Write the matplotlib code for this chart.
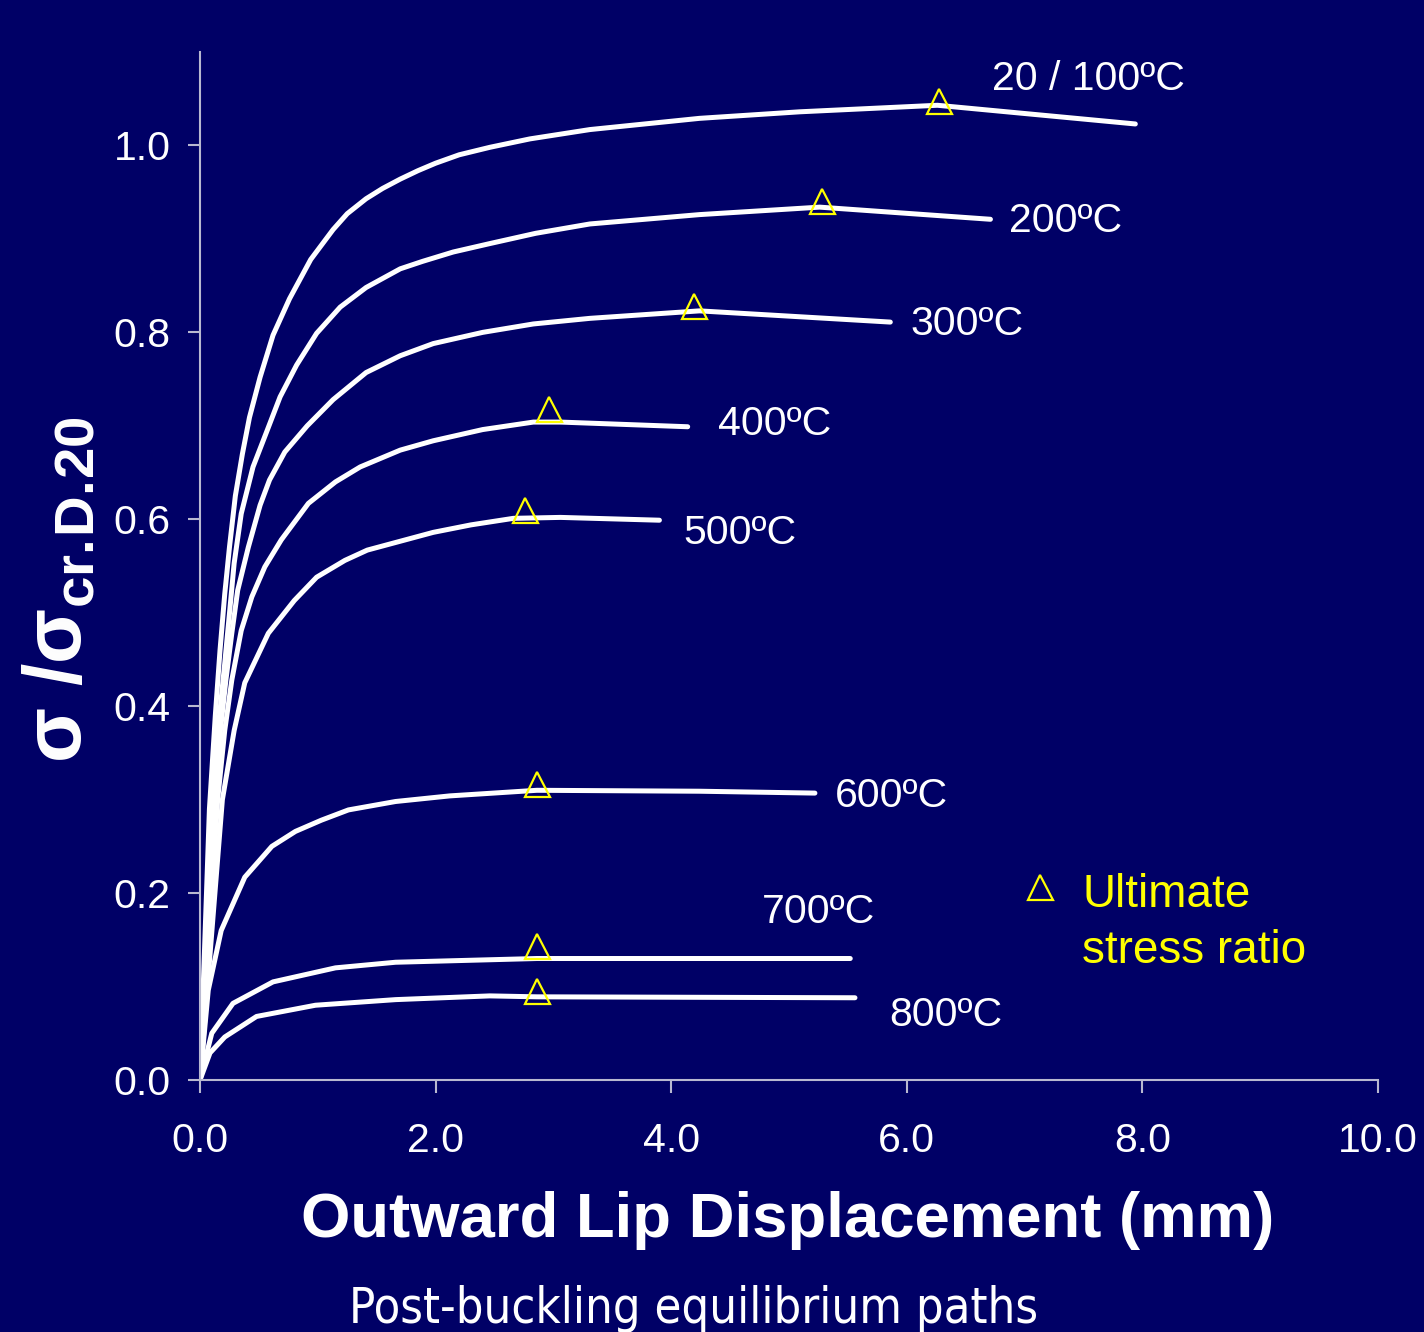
import matplotlib.pyplot as plt

plt.rcParams['font.family'] = ['Liberation Sans', 'DejaVu Sans']
plt.rcParams['mathtext.fontset'] = 'custom'
plt.rcParams['mathtext.rm'] = 'Liberation Sans:bold'
plt.rcParams['mathtext.bf'] = 'Liberation Sans:bold'

navy = '#000066'
axis_grey = '#b8b8d0'
yellow = '#ffff00'

# outward lip displacement (mm) / stress ratio
x_20 = [0, 0.08, 0.13, 0.17, 0.21, 0.25, 0.30, 0.36, 0.42, 0.51, 0.62, 0.76, 0.94,
        1.13, 1.25, 1.41, 1.55, 1.70, 1.85, 2.0, 2.2, 2.46, 2.8, 3.31, 4.24, 5.09, 6.26, 7.94]
y_20 = [0, 0.29, 0.39, 0.46, 0.52, 0.57, 0.625, 0.67, 0.709, 0.752, 0.797, 0.836, 0.878,
        0.910, 0.927, 0.943, 0.954, 0.964, 0.973, 0.981, 0.990, 0.998, 1.007, 1.017, 1.029,
        1.036, 1.043, 1.023]

x_200 = [0, 0.10, 0.15, 0.21, 0.25, 0.29, 0.35, 0.45, 0.57, 0.68, 0.82, 0.99, 1.19,
         1.41, 1.70, 1.89, 2.15, 2.46, 2.85, 3.31, 4.24, 5.26, 6.71]
y_200 = [0, 0.29, 0.37, 0.446, 0.499, 0.553, 0.606, 0.656, 0.695, 0.731, 0.765, 0.799, 0.827,
         0.848, 0.868, 0.876, 0.886, 0.895, 0.906, 0.916, 0.926, 0.934, 0.921]

x_300 = [0, 0.12, 0.17, 0.22, 0.27, 0.32, 0.41, 0.51, 0.59, 0.72, 0.91, 1.13, 1.41,
         1.70, 1.98, 2.4, 2.83, 3.31, 4.24, 5.86]
y_300 = [0, 0.29, 0.37, 0.428, 0.478, 0.524, 0.57, 0.615, 0.642, 0.672, 0.700, 0.728, 0.757,
         0.775, 0.788, 0.800, 0.809, 0.815, 0.823, 0.811]

x_400 = [0, 0.15, 0.21, 0.27, 0.35, 0.44, 0.55, 0.69, 0.92, 1.15, 1.36, 1.70, 1.98, 2.4,
         2.83, 3.06, 4.14]
y_400 = [0, 0.30, 0.374, 0.428, 0.481, 0.517, 0.549, 0.578, 0.617, 0.640, 0.656, 0.674,
         0.684, 0.696, 0.704, 0.704, 0.699]

x_500 = [0, 0.19, 0.29, 0.38, 0.58, 0.80, 0.99, 1.23, 1.42, 1.98, 2.3, 2.66, 3.06, 3.90]
y_500 = [0, 0.30, 0.374, 0.425, 0.478, 0.513, 0.538, 0.556, 0.567, 0.586, 0.594, 0.601,
         0.602, 0.599]

x_600 = [0, 0.07, 0.18, 0.38, 0.61, 0.81, 1.03, 1.26, 1.66, 2.12, 2.86, 4.24, 5.22]
y_600 = [0, 0.096, 0.16, 0.217, 0.25, 0.266, 0.278, 0.289, 0.298, 0.304, 0.31, 0.309, 0.307]

x_700 = [0, 0.10, 0.28, 0.62, 1.15, 1.66, 2.86, 5.52]
y_700 = [0, 0.05, 0.082, 0.105, 0.12, 0.126, 0.13, 0.13]

x_800 = [0, 0.085, 0.21, 0.48, 0.98, 1.66, 2.46, 2.86, 5.56]
y_800 = [0, 0.029, 0.046, 0.068, 0.08, 0.086, 0.09, 0.089, 0.088]

curves_x = [x_20, x_200, x_300, x_400, x_500, x_600, x_700, x_800]
curves_y = [y_20, y_200, y_300, y_400, y_500, y_600, y_700, y_800]
temps = ['20 / 100ºC', '200ºC', '300ºC', '400ºC', '500ºC', '600ºC', '700ºC', '800ºC']
label_pos = [(6.72, 1.059), (6.87, 0.907), (6.03, 0.797), (4.40, 0.690),
             (4.10, 0.574), (5.39, 0.292), (4.77, 0.168), (5.85, 0.058)]

# ultimate stress ratio markers
ult_x = [6.27, 5.28, 4.19, 2.96, 2.76, 2.86, 2.86, 2.86]
ult_y = [1.048, 0.941, 0.828, 0.718, 0.610, 0.317, 0.143, 0.095]

fig = plt.figure(figsize=(14.24, 13.32), dpi=100, facecolor=navy)
ax = fig.add_axes([200 / 1424, 252 / 1332, 1178 / 1424, 1028 / 1332])
ax.set_facecolor(navy)

for xs, ys in zip(curves_x, curves_y):
    ax.plot(xs, ys, color='white', lw=3.6, solid_capstyle='round', solid_joinstyle='round')

ax.plot(ult_x, ult_y, linestyle='none', marker='^', markersize=18, markerfacecolor='none',
        markeredgecolor=yellow, markeredgewidth=1.6, clip_on=False)

for t, (tx, ty) in zip(temps, label_pos):
    ax.text(tx, ty, t, color='white', fontsize=29.5, va='baseline', ha='left')

# legend drawn as in the slide
ax.plot([7.13], [0.207], linestyle='none', marker='^', markersize=18, markerfacecolor='none',
        markeredgecolor=yellow, markeredgewidth=1.6)
ax.text(7.49, 0.185, 'Ultimate', color=yellow, fontsize=33, va='baseline')
ax.text(7.49, 0.125, 'stress ratio', color=yellow, fontsize=33, va='baseline')

ax.set_xlim(0, 10)
ax.set_ylim(0, 1.1)
ax.set_xticks([0, 2, 4, 6, 8, 10])
ax.set_xticklabels(['0.0', '2.0', '4.0', '6.0', '8.0', '10.0'])
ax.set_yticks([0, 0.2, 0.4, 0.6, 0.8, 1.0])
ax.set_yticklabels(['0.0', '0.2', '0.4', '0.6', '0.8', '1.0'])
ax.tick_params(color=axis_grey, labelcolor='white', labelsize=29.5, length=9, width=1.5)
ax.tick_params(axis='x', pad=21)
ax.tick_params(axis='y', pad=12)

for side in ['top', 'right']:
    ax.spines[side].set_visible(False)
for side in ['left', 'bottom']:
    ax.spines[side].set_color(axis_grey)
    ax.spines[side].set_linewidth(1.5)

fig.text(788 / 1424, (1332 - 1237) / 1332, 'Outward Lip Displacement (mm)', color='white',
         fontsize=45.7, fontweight='bold', ha='center', va='baseline')
fig.text(60 / 1424, (1332 - 590) / 1332, r'σ /σ$_{\mathregular{cr.\!D.\!20}}$', color='white',
         fontsize=58, fontweight='bold', rotation=90, ha='center', va='center')
fig.text(694 / 1424, (1332 - 1323) / 1332, 'Post-buckling equilibrium paths', color='white',
         fontsize=35, family='DejaVu Sans', fontstretch='condensed', ha='center', va='baseline')

fig.savefig('out.png', dpi=100, facecolor=navy)
